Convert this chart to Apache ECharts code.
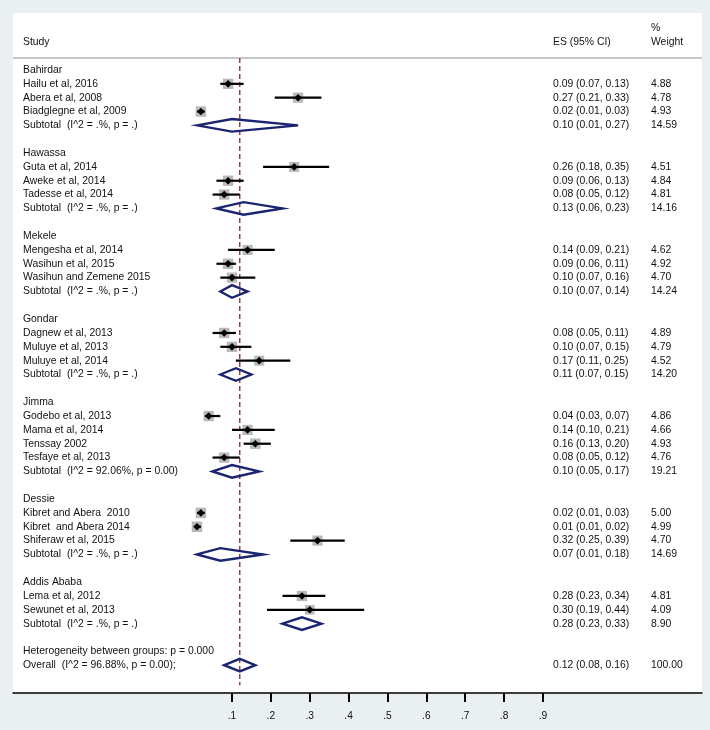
<!DOCTYPE html>
<html>
<head>
<meta charset="utf-8">
<script src="https://cdn.jsdelivr.net/npm/echarts@6/dist/echarts.min.js"></script>
<style>
  html, body { margin: 0; padding: 0; background: #eaf0f2; }
  #chart { width: 710px; height: 730px; }
</style>
</head>
<body>
<div id="chart"></div>
<script>
// forest plot rows (top to bottom)
var rowLabels = [
  'Bahirdar', 'Hailu et al, 2016', 'Abera et al, 2008', 'Biadglegne et al, 2009', 'Subtotal  (I^2 = .%, p = .)', '',
  'Hawassa', 'Guta et al, 2014', 'Aweke et al, 2014', 'Tadesse et al, 2014', 'Subtotal  (I^2 = .%, p = .)', '',
  'Mekele', 'Mengesha et al, 2014', 'Wasihun et al, 2015', 'Wasihun and Zemene 2015', 'Subtotal  (I^2 = .%, p = .)', '',
  'Gondar', 'Dagnew et al, 2013', 'Muluye et al, 2013', 'Muluye et al, 2014', 'Subtotal  (I^2 = .%, p = .)', '',
  'Jimma', 'Godebo et al, 2013', 'Mama et al, 2014', 'Tenssay 2002', 'Tesfaye et al, 2013', 'Subtotal  (I^2 = 92.06%, p = 0.00)', '',
  'Dessie', 'Kibret and Abera  2010', 'Kibret  and Abera 2014', 'Shiferaw et al, 2015', 'Subtotal  (I^2 = .%, p = .)', '',
  'Addis Ababa', 'Lema et al, 2012', 'Sewunet et al, 2013', 'Subtotal  (I^2 = .%, p = .)', '',
  'Heterogeneity between groups: p = 0.000', 'Overall  (I^2 = 96.88%, p = 0.00);'
];
// g = group title, s = study, t = subtotal/overall, b = blank
var rowKinds = [
  'g', 's', 's', 's', 't', 'b',
  'g', 's', 's', 's', 't', 'b',
  'g', 's', 's', 's', 't', 'b',
  'g', 's', 's', 's', 't', 'b',
  'g', 's', 's', 's', 's', 't', 'b',
  'g', 's', 's', 's', 't', 'b',
  'g', 's', 's', 't', 'b',
  'g', 't'
];
var esVals = [
  null, 0.09, 0.27, 0.02, 0.10, null,
  null, 0.26, 0.09, 0.08, 0.13, null,
  null, 0.14, 0.09, 0.10, 0.10, null,
  null, 0.08, 0.10, 0.17, 0.11, null,
  null, 0.04, 0.14, 0.16, 0.08, 0.10, null,
  null, 0.02, 0.01, 0.32, 0.07, null,
  null, 0.28, 0.30, 0.28, null,
  null, 0.12
];
var loVals = [
  null, 0.07, 0.21, 0.01, 0.01, null,
  null, 0.18, 0.06, 0.05, 0.06, null,
  null, 0.09, 0.06, 0.07, 0.07, null,
  null, 0.05, 0.07, 0.11, 0.07, null,
  null, 0.03, 0.10, 0.13, 0.05, 0.05, null,
  null, 0.01, 0.01, 0.25, 0.01, null,
  null, 0.23, 0.19, 0.23, null,
  null, 0.08
];
var hiVals = [
  null, 0.13, 0.33, 0.03, 0.27, null,
  null, 0.35, 0.13, 0.12, 0.23, null,
  null, 0.21, 0.11, 0.16, 0.14, null,
  null, 0.11, 0.15, 0.25, 0.15, null,
  null, 0.07, 0.21, 0.20, 0.12, 0.17, null,
  null, 0.03, 0.02, 0.39, 0.18, null,
  null, 0.34, 0.44, 0.33, null,
  null, 0.16
];
var weightVals = [
  null, 4.88, 4.78, 4.93, 14.59, null,
  null, 4.51, 4.84, 4.81, 14.16, null,
  null, 4.62, 4.92, 4.70, 14.24, null,
  null, 4.89, 4.79, 4.52, 14.20, null,
  null, 4.86, 4.66, 4.93, 4.76, 19.21, null,
  null, 5.00, 4.99, 4.70, 14.69, null,
  null, 4.81, 4.09, 8.90, null,
  null, 100.00
];
var tickVals = [0.1, 0.2, 0.3, 0.4, 0.5, 0.6, 0.7, 0.8, 0.9];
var overallES = 0.12;

var FONT = '10.4px "Liberation Sans", Arial, sans-serif';

var myChart = echarts.init(document.getElementById('chart'));

// one custom item per row: label, marker, ES text, weight
function renderRow(params, api) {
  var i = params.dataIndex;
  var y = api.coord([0, i])[1];
  var kids = [];
  var kind = rowKinds[i];
  if (kind === 'b') return { type: 'group', children: [] };
  kids.push({ type: 'text', style: { text: rowLabels[i], x: 23, y: y, verticalAlign: 'middle', align: 'left', font: FONT, fill: '#111' } });
  if (kind === 's' || kind === 't') {
    var es = esVals[i], lo = loVals[i], hi = hiVals[i];
    var xe = api.coord([es, i])[0];
    var xl = api.coord([lo, i])[0];
    var xh = api.coord([hi, i])[0];
    if (kind === 's') {
      // box size follows weight
      var s = 10.5 * Math.sqrt(weightVals[i] / 5);
      kids.push({ type: 'rect', shape: { x: xe - s / 2, y: y - s / 2, width: s, height: s }, style: { fill: '#b9b9b9' } });
      kids.push({ type: 'line', shape: { x1: xl, y1: y, x2: xh, y2: y }, style: { stroke: '#000', lineWidth: 2.2 } });
      kids.push({ type: 'polygon', shape: { points: [[xe, y - 3.8], [xe + 3.8, y], [xe, y + 3.8], [xe - 3.8, y]] }, style: { fill: '#000' } });
    } else {
      kids.push({ type: 'polygon', shape: { points: [[xl, y], [xe, y - 6.3], [xh, y], [xe, y + 6.3]] }, style: { fill: 'none', stroke: '#1b2470', lineWidth: 2.4, lineJoin: 'miter' } });
    }
    var esText = es.toFixed(2) + ' (' + lo.toFixed(2) + ', ' + hi.toFixed(2) + ')';
    kids.push({ type: 'text', style: { text: esText, x: 553, y: y, verticalAlign: 'middle', align: 'left', font: FONT, fill: '#111' } });
    kids.push({ type: 'text', style: { text: weightVals[i].toFixed(2), x: 651, y: y, verticalAlign: 'middle', align: 'left', font: FONT, fill: '#111' } });
  }
  return { type: 'group', children: kids };
}

var option = {
  backgroundColor: '#eaf0f2',
  animation: false,
  grid: {
    left: 13, right: 8, top: 13, bottom: 37,
    show: true, backgroundColor: '#fff', borderWidth: 0
  },
  xAxis: {
    type: 'value',
    min: -0.4633, max: 1.309,
    axisLine: { show: true, onZero: false, lineStyle: { color: '#000', width: 1.5 } },
    axisTick: { show: true, customValues: tickVals, length: 9, lineStyle: { color: '#000', width: 2 } },
    axisLabel: {
      show: true, customValues: tickVals, margin: 18,
      color: '#111', fontSize: 10.2, fontFamily: '"Liberation Sans", Arial, sans-serif',
      formatter: function (v) { return '.' + Math.round(v * 10); }
    },
    splitLine: { show: false }
  },
  yAxis: {
    type: 'value', inverse: true,
    min: -4.118, max: 45.01,
    show: false
  },
  graphic: [
    { type: 'line', shape: { x1: 13, y1: 58, x2: 702, y2: 58 }, style: { stroke: '#b4b4b4', lineWidth: 1.6 } },
    { type: 'text', style: { text: 'Study', x: 23, y: 42, verticalAlign: 'middle', font: FONT, fill: '#111' } },
    { type: 'text', style: { text: 'ES (95% CI)', x: 553, y: 42, verticalAlign: 'middle', font: FONT, fill: '#111' } },
    { type: 'text', style: { text: '%', x: 651, y: 28, verticalAlign: 'middle', font: FONT, fill: '#111' } },
    { type: 'text', style: { text: 'Weight', x: 651, y: 42, verticalAlign: 'middle', font: FONT, fill: '#111' } }
  ],
  series: [
    {
      // overall effect reference line
      type: 'line',
      data: [[overallES, -0.87], [overallES, 44.45]],
      symbol: 'none',
      lineStyle: { color: '#952f3c', width: 1.4, type: [5, 3] },
      z: 1
    },
    {
      type: 'custom',
      renderItem: renderRow,
      data: rowLabels.map(function (_, i) { return [0, i]; }),
      clip: false,
      z: 2
    }
  ]
};
myChart.setOption(option);
</script>
</body>
</html>
